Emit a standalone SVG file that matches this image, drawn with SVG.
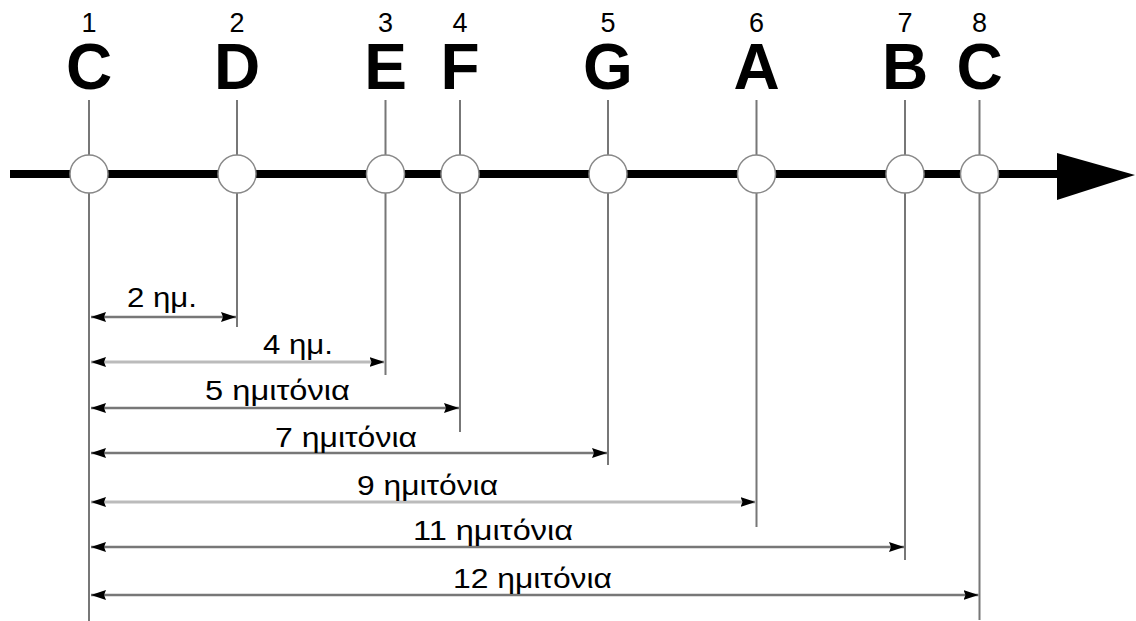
<svg xmlns="http://www.w3.org/2000/svg" width="1136" height="621" viewBox="0 0 1136 621">
<defs>
<marker id="ah" markerUnits="userSpaceOnUse" markerWidth="17" markerHeight="11" refX="15" refY="5" orient="auto-start-reverse">
<path d="M0,0 L15,5 L0,10 L2,5 z" fill="#000"/>
</marker>
<style>
.num{font-family:"Liberation Sans",Arial,sans-serif;font-size:27px;fill:#000;text-anchor:middle}
.note{font-family:"Liberation Sans",Arial,sans-serif;font-size:64px;font-weight:bold;fill:#000;text-anchor:middle}
.lbl{font-family:"Liberation Sans",Arial,sans-serif;font-size:27px;fill:#000}
.tick{stroke:#777;stroke-width:2;fill:none}
.dim{stroke:#777;stroke-width:2.5;fill:none;marker-start:url(#ah);marker-end:url(#ah)}
.diml{stroke:#bbb;stroke-width:3;fill:none;marker-start:url(#ah);marker-end:url(#ah)}
.circ{fill:#fff;stroke:#888;stroke-width:1.5}
</style>
</defs>
<g id="axis">
<line x1="10" y1="174" x2="1060" y2="174" stroke="#000" stroke-width="8"/>
<polygon points="1057,153 1135,175 1057,200" fill="#000"/>
</g>
<g id="connectors">
<line class="tick" x1="89" y1="100" x2="89" y2="621"/>
<line class="tick" x1="237" y1="100" x2="237" y2="327"/>
<line class="tick" x1="385.5" y1="100" x2="385.5" y2="375"/>
<line class="tick" x1="460" y1="100" x2="460" y2="432"/>
<line class="tick" x1="608" y1="100" x2="608" y2="465"/>
<line class="tick" x1="756.5" y1="100" x2="756.5" y2="527"/>
<line class="tick" x1="905" y1="100" x2="905" y2="560"/>
<line class="tick" x1="979.5" y1="100" x2="979.5" y2="620"/>
<line class="dim" x1="91" y1="317" x2="236" y2="317"/>
<line class="diml" x1="91" y1="362" x2="384.5" y2="362"/>
<line class="dim" x1="91" y1="408" x2="459" y2="408"/>
<line class="dim" x1="91" y1="453" x2="607" y2="453"/>
<line class="diml" x1="91" y1="502" x2="755.5" y2="502"/>
<line class="dim" x1="91" y1="547" x2="904" y2="547"/>
<line class="dim" x1="91" y1="595" x2="978.5" y2="595"/>
</g>
<g id="n1"><circle class="circ" cx="89" cy="174" r="19"/><text class="num" x="89" y="32">1</text><text class="note" x="89" y="89">C</text></g>
<g id="n2"><circle class="circ" cx="237" cy="174" r="19"/><text class="num" x="237" y="32">2</text><text class="note" x="237" y="89">D</text></g>
<g id="n3"><circle class="circ" cx="385.5" cy="174" r="19"/><text class="num" x="385.5" y="32">3</text><text class="note" x="385.5" y="89">E</text></g>
<g id="n4"><circle class="circ" cx="460" cy="174" r="19"/><text class="num" x="460" y="32">4</text><text class="note" x="460" y="89">F</text></g>
<g id="n5"><circle class="circ" cx="608" cy="174" r="19"/><text class="num" x="608" y="32">5</text><text class="note" x="608" y="89">G</text></g>
<g id="n6"><circle class="circ" cx="756.5" cy="174" r="19"/><text class="num" x="756.5" y="32">6</text><text class="note" x="756.5" y="89">A</text></g>
<g id="n7"><circle class="circ" cx="905" cy="174" r="19"/><text class="num" x="905" y="32">7</text><text class="note" x="905" y="89">B</text></g>
<g id="n8"><circle class="circ" cx="979.5" cy="174" r="19"/><text class="num" x="979.5" y="32">8</text><text class="note" x="979.5" y="89">C</text></g>
<g id="labels">
<text class="lbl" x="127" y="307" textLength="70" lengthAdjust="spacingAndGlyphs">2 ημ.</text>
<text class="lbl" x="263" y="354" textLength="70" lengthAdjust="spacingAndGlyphs">4 ημ.</text>
<text class="lbl" x="205" y="400" textLength="145" lengthAdjust="spacingAndGlyphs">5 ημιτόνια</text>
<text class="lbl" x="275" y="447" textLength="142" lengthAdjust="spacingAndGlyphs">7 ημιτόνια</text>
<text class="lbl" x="357" y="495" textLength="141" lengthAdjust="spacingAndGlyphs">9 ημιτόνια</text>
<text class="lbl" x="413" y="540" textLength="160" lengthAdjust="spacingAndGlyphs">11 ημιτόνια</text>
<text class="lbl" x="453" y="588" textLength="159" lengthAdjust="spacingAndGlyphs">12 ημιτόνια</text>
</g>
</svg>
